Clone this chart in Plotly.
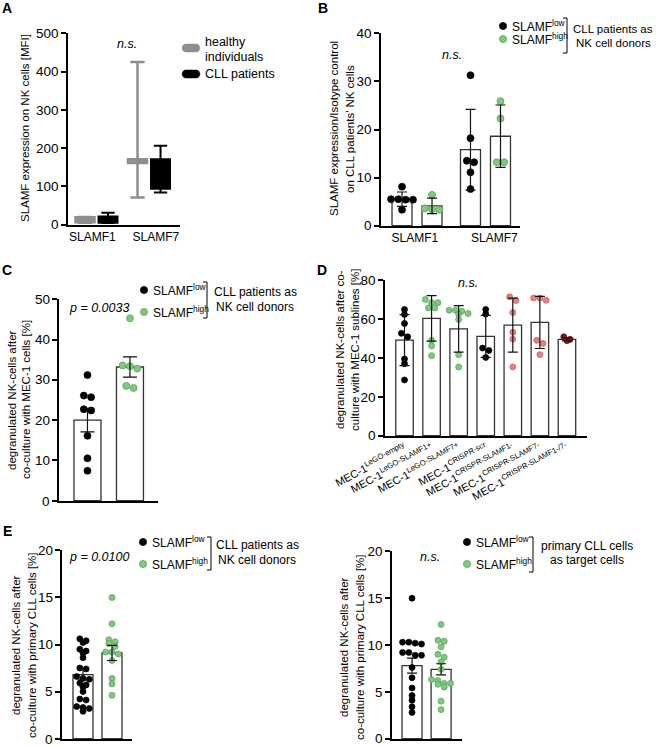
import plotly.graph_objects as go
import numpy as np

W, H = 656, 747

# ---------------- data ----------------
# Panel A (box plots, MFI)
a_categories = ["SLAMF1", "SLAMF7"]
a_healthy_lower = [5, 71]
a_healthy_q1 = [6, 161]
a_healthy_median = [12, 167]
a_healthy_q3 = [19, 171]
a_healthy_upper = [20, 425]
a_cll_lower = [4, 84]
a_cll_q1 = [5, 94]
a_cll_median = [13, 130]
a_cll_q3 = [21, 171]
a_cll_upper = [31, 206]

# Panel B
b_categories = ["SLAMF1", "SLAMF7"]
b_low_mean = [5.5, 15.8]
b_low_sd = [1.5, 8.4]
b_high_mean = [4.1, 18.6]
b_high_sd = [1.6, 6.5]
b_low_points = [[8.1, 5.5, 5.5, 5.4, 5.4, 3.3], [31.3, 18.2, 13.5, 13.2, 11.1, 7.6]]
b_high_points = [[6.4, 3.6, 3.4, 3.3], [25.9, 22.3, 13.2, 13.2]]

# Panel C
c_mean = [20.0, 33.2]
c_sem = [2.9, 2.5]
c_low_points = [31.2, 26.1, 25.7, 22.7, 22.4, 16.1, 10.5, 7.4]
c_high_points = [45.3, 33.6, 33.4, 32.8, 28.5, 28.0]

# Panel D
d_labels = ["MEC-1<sup>LeGO-empty</sup>", "MEC-1<sup>LeGO-SLAMF1+</sup>",
            "MEC-1<sup>LeGO-SLAMF7+</sup>", "MEC-1<sup>CRISPR-scr</sup>",
            "MEC-1<sup>CRISPR-SLAMF1-</sup>", "MEC-1<sup>CRISPR-SLAMF7-</sup>",
            "MEC-1<sup>CRISPR-SLAMF1-/7-</sup>"]
d_mean = [49.2, 60.4, 55.0, 51.1, 56.9, 58.3, 49.6]
d_sd = [13.1, 11.7, 12.0, 10.8, 13.9, 13.4, 0.8]
d_points = [
    [65.0, 62.4, 57.8, 52.7, 50.9, 39.5, 37.1, 28.7],
    [70.1, 68.5, 68.5, 65.8, 65.8, 49.1, 46.2, 41.2],
    [64.6, 64.6, 64.1, 62.9, 62.6, 59.8, 41.7, 35.4],
    [65.0, 62.6, 45.1, 43.9, 40.3],
    [71.5, 69.6, 63.4, 53.2, 49.7, 35.4],
    [70.9, 70.9, 69.7, 49.1, 47.5, 41.7],
    [50.9, 49.6, 48.9],
]
d_colors = ["black", "green", "green", "black", "pink", "pink", "darkred"]

# Panel E (left: NK donors, right: CLL target cells)
e1_mean = [6.8, 9.1]
e1_sem = [0.55, 0.8]
e1_low_points = [10.6, 10.4, 10.2, 9.5, 9.3, 9.1, 8.6, 7.5, 7.4, 6.6, 6.4, 6.3,
                 5.9, 5.7, 5.5, 5.0, 4.2, 4.1, 3.4, 3.3, 3.2, 2.9]
e1_high_points = [15.0, 12.2, 10.5, 10.3, 10.1, 9.8, 9.2, 9.2, 9.0, 8.3, 6.4, 5.8, 4.6]
e2_mean = [7.8, 7.4]
e2_sem = [0.8, 0.6]
e2_low_points = [15.0, 10.3, 10.1, 10.2, 10.3, 9.2, 9.2, 8.9, 8.9, 7.6, 6.5, 5.4,
                 4.6, 4.1, 3.4, 2.8]
e2_high_points = [12.2, 10.4, 10.5, 9.8, 9.0, 8.7, 8.2, 7.4, 6.3, 6.2, 5.9, 5.9,
                  5.5, 5.8, 4.0, 3.1]

# ---------------- styles ----------------
COL = {
    "black": ("#000000", "#000000"),
    "green": ("#80c780", "#569e56"),
    "pink": ("#e98080", "#c85f5f"),
    "darkred": ("#8e1515", "#6a0d0d"),
}
GRAY = "#8e8e8e"
FONT = "Liberation Sans, Arial, sans-serif"

# panel geometry in pixels: x-span, y-span (top, bottom), ranges
panels = {
    1: dict(x=(68, 180), y=(33, 225), yr=(0, 500), xr=(-0.543, 1.59), dtick=100),
    2: dict(x=(381, 520), y=(33, 226), yr=(0, 40), xr=(-0.526, 1.504), dtick=10),
    3: dict(x=(59, 158), y=(299, 501), yr=(0, 50), xr=(-0.67, 1.66), dtick=10),
    4: dict(x=(385, 587), y=(280, 436), yr=(0, 80), xr=(-0.72, 6.74), dtick=20),
    5: dict(x=(62, 132), y=(550, 739), yr=(0, 20), xr=(-0.724, 1.69), dtick=5),
    6: dict(x=(392, 462), y=(551, 739), yr=(0, 20), xr=(-0.69, 1.72), dtick=5),
}
# axes whose tick labels are written as annotations
manual_ylabels = {3, 5}


def ppu(n):
    p = panels[n]
    xp = (p["x"][1] - p["x"][0]) / (p["xr"][1] - p["xr"][0])
    yp = (p["y"][1] - p["y"][0]) / (p["yr"][1] - p["yr"][0])
    return xp, yp


def swarm(vals, n, d):
    """Row-based dot layout: returns x offsets (axis units) for each value."""
    xp, yp = ppu(n)
    vals = list(vals)
    order = sorted(range(len(vals)), key=lambda i: -vals[i])
    rows, cur = [], []
    for i in order:
        if cur and abs(vals[cur[0]] - vals[i]) * yp >= 0.6 * d:
            rows.append(cur)
            cur = []
        cur.append(i)
    if cur:
        rows.append(cur)
    off = [0.0] * len(vals)
    for row in rows:
        m = len(row)
        for k, i in enumerate(row):
            off[i] = (k - (m - 1) / 2) * d / xp
    return off


fig = go.Figure()


def ax(n):
    return ("x" if n == 1 else f"x{n}"), ("y" if n == 1 else f"y{n}")


def add_bars(n, pos, means, width_px):
    xa, ya = ax(n)
    xp, _ = ppu(n)
    fig.add_trace(go.Bar(x=pos, y=means, width=width_px / xp, xaxis=xa, yaxis=ya,
                         marker=dict(color="white", line=dict(color="#333333", width=1.3))))


def add_points(n, center, vals, color, d):
    xa, ya = ax(n)
    off = swarm(vals, n, d + 0.3)
    fill, edge = COL[color]
    fig.add_trace(go.Scatter(x=[center + o for o in off], y=vals, mode="markers",
                             xaxis=xa, yaxis=ya,
                             marker=dict(size=d, color=fill, line=dict(color=edge, width=0.7))))


def add_err(n, pos, means, errs, cap):
    xa, ya = ax(n)
    fig.add_trace(go.Scatter(x=pos, y=means, mode="markers", xaxis=xa, yaxis=ya,
                             marker=dict(size=1, color="rgba(0,0,0,0)"),
                             error_y=dict(type="data", array=errs, color="#111111",
                                          thickness=1.2, width=cap)))


# ---- Panel A: boxes ----
xpA, _ = ppu(1)
offA = 11.5 / xpA
fig.add_trace(go.Box(x=[i - offA for i in range(2)], q1=a_healthy_q1, median=a_healthy_median,
                     q3=a_healthy_q3, lowerfence=a_healthy_lower, upperfence=a_healthy_upper,
                     width=19 / xpA, whiskerwidth=0.75, fillcolor=GRAY,
                     line=dict(color=GRAY, width=2.5), xaxis="x", yaxis="y"))
fig.add_trace(go.Box(x=[i + offA for i in range(2)], q1=a_cll_q1, median=a_cll_median,
                     q3=a_cll_q3, lowerfence=a_cll_lower, upperfence=a_cll_upper,
                     width=19 / xpA, whiskerwidth=0.7, fillcolor="black",
                     line=dict(color="black", width=2), xaxis="x", yaxis="y"))

# ---- Panel B ----
xpB, _ = ppu(2)
offB = 15 / xpB
posB_low = [i - offB for i in range(2)]
posB_high = [i + offB for i in range(2)]
add_bars(2, posB_low, b_low_mean, 20)
add_bars(2, posB_high, b_high_mean, 20)
for i in range(2):
    add_points(2, posB_low[i], b_low_points[i], "black", 7)
    add_points(2, posB_high[i], b_high_points[i], "green", 7)
add_err(2, posB_low, b_low_mean, b_low_sd, 5)
add_err(2, posB_high, b_high_mean, b_high_sd, 5)

# ---- Panel C ----
add_bars(3, [0, 1], c_mean, 27)
add_points(3, 0, c_low_points, "black", 7)
add_points(3, 1, c_high_points, "green", 7)
add_err(3, [0, 1], c_mean, c_sem, 7)

# ---- Panel D ----
posD = list(range(len(d_mean)))
add_bars(4, posD, d_mean, 17.5)
for i, pts in enumerate(d_points):
    add_points(4, i, pts, d_colors[i], 6)
add_err(4, posD, d_mean, d_sd, 5)

# ---- Panel E ----
add_bars(5, [0, 1], e1_mean, 20)
add_points(5, 0, e1_low_points, "black", 6)
add_points(5, 1, e1_high_points, "green", 6)
add_err(5, [0, 1], e1_mean, e1_sem, 5)

add_bars(6, [0, 1], e2_mean, 20)
add_points(6, 0, e2_low_points, "black", 6)
add_points(6, 1, e2_high_points, "green", 6)
add_err(6, [0, 1], e2_mean, e2_sem, 5)

# ---------------- axes ----------------
ann = []
shapes = []
layout_axes = {}
tickinfo = {
    1: ([-0.08, 1.13], a_categories, 0),
    2: ([-0.03, 1.13], b_categories, 0),
    3: ([0, 1], ["", ""], 0),
    4: (posD, d_labels, -28),
    5: ([0, 1], ["", ""], 0),
    6: ([0, 1], ["", ""], 0),
}
YTICK_SIZE = 13.5


def px(x):
    return x / W


def py(y):
    return 1 - y / H


for n, p in panels.items():
    xn = "xaxis" if n == 1 else f"xaxis{n}"
    yn = "yaxis" if n == 1 else f"yaxis{n}"
    xa, ya = ax(n)
    tv, tt, ang = tickinfo[n]
    ylo, yhi = p["yr"]
    eps = (yhi - ylo) * 0.002
    yticks = list(range(ylo, yhi + 1, p["dtick"]))
    layout_axes[xn] = dict(domain=[p["x"][0] / W, p["x"][1] / W], range=list(p["xr"]),
                           anchor=ya, showline=True, linecolor="black", linewidth=1.5,
                           ticks="", showgrid=False, zeroline=False, automargin=False,
                           tickmode="array", tickvals=tv, ticktext=tt, tickangle=ang,
                           tickfont=dict(size=11 if n == 4 else 12, color="black"),
                           fixedrange=True)
    layout_axes[yn] = dict(domain=[1 - p["y"][1] / H, 1 - p["y"][0] / H],
                           range=[ylo - eps, yhi + eps],
                           anchor=xa, showline=True, linecolor="black", linewidth=1.5,
                           ticks="outside", ticklen=5, tickwidth=1.5, tickcolor="black",
                           tickmode="array", tickvals=yticks,
                           showticklabels=n not in manual_ylabels,
                           ticklabeloverflow="allow",
                           showgrid=False, zeroline=False, automargin=False,
                           tickfont=dict(size=YTICK_SIZE, color="black"), fixedrange=True)
    if n in manual_ylabels:
        _, yp = ppu(n)
        for v in yticks:
            ypix = p["y"][1] - (v - ylo) * yp
            ann.append(dict(xref="paper", yref="paper", x=px(p["x"][0] - 7), y=py(ypix),
                            text=f"{v}", showarrow=False, xanchor="right", yanchor="middle",
                            font=dict(size=YTICK_SIZE, color="black", family=FONT)))

# ---------------- annotations & shapes ----------------


def text(x, y, s, size=11.5, anchor="left", angle=0, bold=False, italic=False):
    if bold:
        s = f"<b>{s}</b>"
    if italic:
        s = f"<i>{s}</i>"
    ann.append(dict(xref="paper", yref="paper", x=px(x), y=py(y), text=s, showarrow=False,
                    xanchor=anchor, yanchor="middle", textangle=angle,
                    font=dict(size=size, color="black", family=FONT)))


def dot(cx, cy, color, r=3.6):
    fill, edge = COL[color]
    shapes.append(dict(type="circle", xref="paper", yref="paper",
                       x0=px(cx - r), x1=px(cx + r), y0=py(cy + r), y1=py(cy - r),
                       fillcolor=fill, line=dict(color=edge, width=0.7)))


def bracket(x, y0, y1):
    path = f"M {px(x-4)},{py(y0)} L {px(x)},{py(y0)} L {px(x)},{py(y1)} L {px(x-4)},{py(y1)}"
    shapes.append(dict(type="path", xref="paper", yref="paper", path=path,
                       fillcolor="rgba(0,0,0,0)", line=dict(color="black", width=1)))


def pill(x0, x1, cy, h, color):
    r = h / 2
    path = (f"M {px(x0+r)},{py(cy-r)} L {px(x1-r)},{py(cy-r)} "
            f"C {px(x1+r*0.3)},{py(cy-r)} {px(x1+r*0.3)},{py(cy+r)} {px(x1-r)},{py(cy+r)} "
            f"L {px(x0+r)},{py(cy+r)} "
            f"C {px(x0-r*0.3)},{py(cy+r)} {px(x0-r*0.3)},{py(cy-r)} {px(x0+r)},{py(cy-r)} Z")
    shapes.append(dict(type="path", xref="paper", yref="paper", path=path,
                       fillcolor=color, line=dict(color=color, width=0.5)))


# panel letters
for lab, (x, y) in {"A": (7, 8), "B": (323, 8), "C": (7, 270), "D": (322, 270),
                    "E": (7, 531)}.items():
    text(x, y, lab, size=14, anchor="center", bold=True)

# axis titles (rotated)
TS = 11.5
text(25, 128, "SLAMF expression on NK cells [MFI]", size=TS, anchor="center", angle=-90)
text(334, 129, "SLAMF expression/Isotype control", size=TS, anchor="center", angle=-90)
text(350, 129, "on CLL patients\u2019 NK cells", size=TS, anchor="center", angle=-90)
text(12, 400, "degranulated NK-cells after", size=TS, anchor="center", angle=-90)
text(26, 400, "co-culture with MEC-1 cells [%]", size=TS, anchor="center", angle=-90)
text(340, 350, "degranulated NK-cells after co-", size=TS, anchor="center", angle=-90)
text(355, 350, "culture with MEC-1 sublines [%]", size=TS, anchor="center", angle=-90)
text(16, 645, "degranulated NK-cells after", size=TS, anchor="center", angle=-90)
text(32, 645, "co-culture with primary CLL cells [%]", size=TS, anchor="center", angle=-90)
text(344, 647, "degranulated NK-cells after", size=TS, anchor="center", angle=-90)
text(360, 647, "co-culture with primary CLL cells [%]", size=TS, anchor="center", angle=-90)

# significance
text(127, 44, "n.s.", size=12.5, anchor="center", italic=True)
text(452, 55, "n.s.", size=12.5, anchor="center", italic=True)
text(468, 283, "n.s.", size=12.5, anchor="center", italic=True)
text(430, 557, "n.s.", size=12.5, anchor="center", italic=True)
text(99, 308, "p = 0.0033", size=12.5, anchor="center", italic=True)
text(99, 557, "p = 0.0100", size=12.5, anchor="center", italic=True)

# legend A
pill(182, 200, 48, 8, GRAY)
pill(182, 200, 74, 8, "black")
text(203, 42, "healthy", size=12.5)
text(203, 57, "individuals", size=12.5)
text(203, 74, "CLL patients", size=12.5)


def slamf_legend(dx, y_low, y_high, bx, by0, by1, line1, line2, cx, ly1, ly2, ls=12):
    dot(dx, y_low, "black")
    dot(dx, y_high, "green")
    text(dx + 7, y_low, "SLAMF<sup>low</sup>", size=12)
    text(dx + 7, y_high, "SLAMF<sup>high</sup>", size=12)
    bracket(bx, by0, by1)
    text(cx, ly1, line1, size=ls, anchor="center")
    text(cx, ly2, line2, size=ls, anchor="center")


slamf_legend(503, 26, 39, 567, 18, 53, "CLL patients as", "NK cell donors", 613, 29, 43, ls=11.5)
slamf_legend(144, 290, 312, 207, 282, 318, "CLL patients as", "NK cell donors", 255, 292, 307)
slamf_legend(143, 542, 564, 211, 537, 570, "CLL patients as", "NK cell donors", 257, 545, 560)
slamf_legend(467, 542, 564, 533, 537, 572, "primary CLL cells", "as target cells", 587, 546, 560)

fig.update_layout(
    template="none",
    width=W, height=H, margin=dict(l=0, r=0, t=0, b=0, autoexpand=False),
    paper_bgcolor="white", plot_bgcolor="rgba(0,0,0,0)",
    showlegend=False, font=dict(family=FONT, color="black"),
    annotations=ann, shapes=shapes, **layout_axes,
)

fig.write_html("out.html", config={"displayModeBar": False},
               post_script="document.body.style.margin='0';"
                           "document.body.style.overflow='hidden';")
